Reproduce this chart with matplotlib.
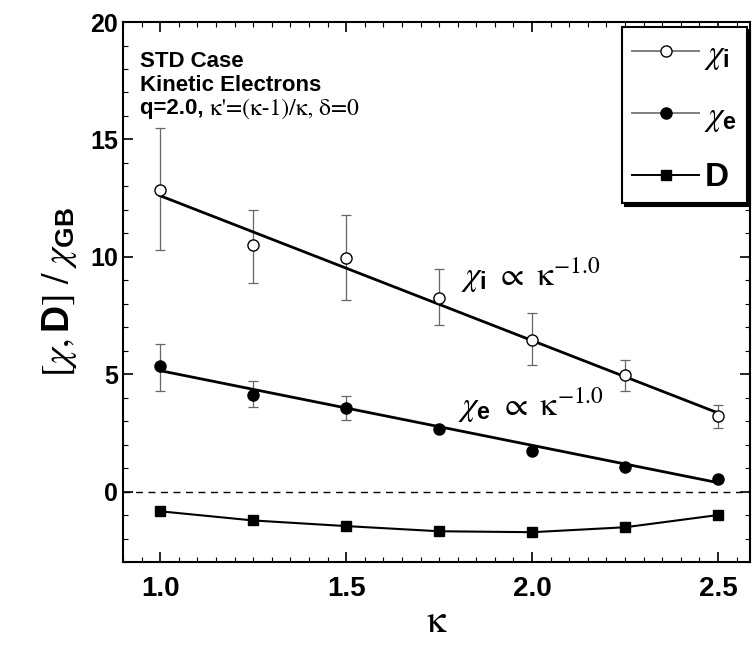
import matplotlib
matplotlib.use('Agg')

import matplotlib.pyplot as plt
from matplotlib.ticker import MultipleLocator

plt.rcParams['mathtext.fontset'] = 'custom'
plt.rcParams['mathtext.rm'] = 'STIXGeneral'
plt.rcParams['mathtext.it'] = 'STIXGeneral:italic'
plt.rcParams['mathtext.sf'] = 'Liberation Sans:bold'
plt.rcParams['mathtext.bf'] = 'Liberation Sans:bold'

kappa = [1.0, 1.25, 1.5, 1.75, 2.0, 2.25, 2.5]

chi_i = [12.85, 10.5, 9.95, 8.25, 6.45, 4.95, 3.2]
chi_i_lo = [10.3, 8.9, 8.15, 7.1, 5.4, 4.3, 2.7]
chi_i_hi = [15.5, 12.0, 11.8, 9.5, 7.6, 5.6, 3.7]

chi_e = [5.35, 4.13, 3.55, 2.68, 1.72, 1.03, 0.55]
chi_e_lo = [4.3, 3.6, 3.05, 2.6, 1.65, 0.98, 0.5]
chi_e_hi = [6.3, 4.7, 4.05, 2.75, 1.8, 1.08, 0.6]

D = [-0.84, -1.23, -1.47, -1.69, -1.73, -1.52, -1.0]

fit_x = [1.0, 2.5]
fit_i = [12.6, 3.35]
fit_e = [5.15, 0.38]

header = ['STD Case', 'Kinetic Electrons']

fig = plt.figure(figsize=(7.52, 6.48), dpi=100)
ax = fig.add_axes([0.1636, 0.1327, 0.8337, 0.8333])

err_i = [[c - l for c, l in zip(chi_i, chi_i_lo)], [h - c for c, h in zip(chi_i, chi_i_hi)]]
err_e = [[c - l for c, l in zip(chi_e, chi_e_lo)], [h - c for c, h in zip(chi_e, chi_e_hi)]]

ax.axhline(0, color='k', ls=(0, (5, 4)), lw=1.0, zorder=1)

ax.errorbar(kappa, chi_i, yerr=err_i, fmt='none', ecolor='0.4', elinewidth=0.9,
            capsize=3.5, capthick=0.9, zorder=2)
ax.errorbar(kappa, chi_e, yerr=err_e, fmt='none', ecolor='0.4', elinewidth=0.9,
            capsize=3.5, capthick=0.9, zorder=2)

ax.plot(fit_x, fit_i, 'k-', lw=2.0, zorder=3)
ax.plot(fit_x, fit_e, 'k-', lw=2.0, zorder=3)
ax.plot(kappa, D, 'k-', lw=1.5, zorder=3)

ax.plot(kappa, chi_i, 'o', ms=8, mfc='white', mec='k', mew=1.0, zorder=4)
ax.plot(kappa, chi_e, 'o', ms=8, mfc='k', mec='k', zorder=4)
ax.plot(kappa, D, 's', ms=7.5, mfc='k', mec='k', zorder=4)

# legend handles
h1, = ax.plot([], [], '-', color='0.5', lw=1.4, marker='o', ms=8, mfc='white', mec='k')
h2, = ax.plot([], [], '-', color='0.5', lw=1.4, marker='o', ms=8, mfc='k', mec='k')
h3, = ax.plot([], [], 'k-', lw=1.4, marker='s', ms=7.5, mfc='k', mec='k')
leg = ax.legend([h1, h2, h3],
                [r'$\chi_{\mathsf{i}}$', r'$\chi_{\mathsf{e}}$', r'$\mathsf{D}$'],
                loc='upper right', bbox_to_anchor=(0.995, 0.991), borderaxespad=0,
                fontsize=24, handlelength=2.0, handletextpad=0.15, labelspacing=0.8,
                borderpad=0.3, fancybox=False, edgecolor='k', framealpha=1,
                shadow={'color': 'k', 'alpha': 1})
leg.get_frame().set_linewidth(1.5)

ax.set_xlim(0.9, 2.586)
ax.set_ylim(-3, 20)
ax.xaxis.set_minor_locator(MultipleLocator(0.05))
ax.yaxis.set_minor_locator(MultipleLocator(1))
ax.tick_params(which='both', direction='in', top=True, right=True)
ax.tick_params(which='major', length=7, width=1.2)
ax.tick_params(which='minor', length=3.5, width=0.8)
ax.tick_params(axis='x', which='major', pad=10)
ax.set_xticks([1.0, 1.5, 2.0, 2.5])
ax.set_xticklabels(['1.0', '1.5', '2.0', '2.5'], fontsize=20, fontweight='bold',
                   family='Liberation Sans')
ax.set_yticks([0, 5, 10, 15, 20])
ax.set_yticklabels(['0', '5', '10', '15', '20'], fontsize=18, fontweight='bold',
                   family='Liberation Sans')
for s in ax.spines.values():
    s.set_linewidth(1.5)

ax.set_xlabel(r'$\mathrm{\kappa}$', fontsize=28, labelpad=0)
ax.set_ylabel(r'$[\chi,\mathsf{D}]\ /\ \chi_{\mathsf{GB}}$', fontsize=27, labelpad=8)

# annotations, one line each
ax.text(0.027, 0.917, header[0], transform=ax.transAxes, fontsize=16,
        fontweight='bold', family='Liberation Sans', va='baseline')
ax.text(0.027, 0.873, header[1], transform=ax.transAxes, fontsize=16,
        fontweight='bold', family='Liberation Sans', va='baseline')
t1 = ax.text(0.027, 0.829, 'q=2.0, ', transform=ax.transAxes, fontsize=16,
             fontweight='bold', family='Liberation Sans', va='baseline')
ax.annotate("\u03ba'=(\u03ba-1)/\u03ba, \u03b4=0", xy=(1, 0), xycoords=t1,
            va='bottom', fontsize=17, family='STIXGeneral')

ax.text(1.81, 8.75, r'$\chi_{\mathsf{i}}\ \propto\ \mathrm{\kappa}^{\mathrm{-1.0}}$', fontsize=24)
ax.text(1.80, 3.2, r'$\chi_{\mathsf{e}}\ \propto\ \mathrm{\kappa}^{\mathrm{-1.0}}$', fontsize=24)

plt.savefig('out.png', dpi=100)
plt.close(fig)
